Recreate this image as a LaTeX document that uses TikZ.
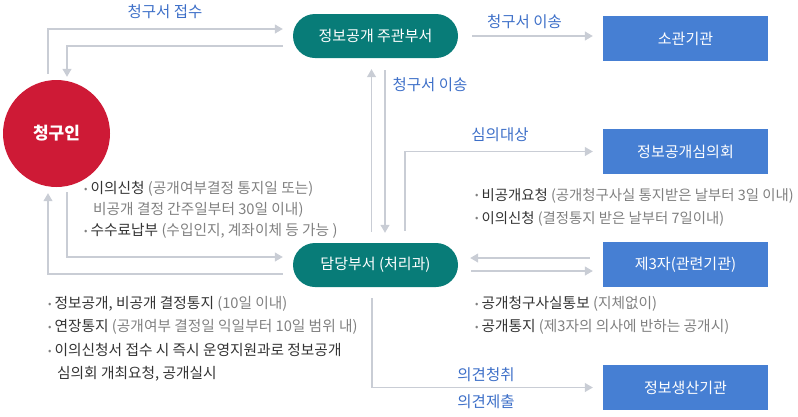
\documentclass[tikz,border=0pt]{standalone}
\usepackage{fontspec}
\setmainfont{Noto Sans CJK KR}
\usepackage{xcolor}
\usetikzlibrary{arrows.meta, positioning}
\definecolor{cteal}{RGB}{8,124,120}
\definecolor{cred}{RGB}{206,26,54}
\definecolor{cblue}{RGB}{70,127,211}
\definecolor{clbl}{RGB}{61,111,200}
\definecolor{cline}{RGB}{201,205,213}
\definecolor{cdark}{RGB}{51,51,51}
\definecolor{cgray}{RGB}{128,128,128}
\newcommand{\bul}{\textcolor{cgray}{\fontsize{10}{10}\selectfont\raisebox{0.12em}{•}}\hspace{3pt}}
\newcommand{\sub}[1]{\textcolor{cgray}{#1}}

\begin{document}
\begin{tikzpicture}[
  x=1pt, y=-1pt,
  reqc/.style  = {circle, fill=cred, minimum size=107pt, inner sep=0pt,
                  text=white, font=\fontsize{17}{18}\selectfont\bfseries},
  pill/.style  = {rectangle, rounded corners=22pt, fill=cteal,
                  minimum width=165pt, minimum height=44pt, inner sep=0pt,
                  text=white, font=\fontsize{15}{16}\selectfont},
  org/.style   = {rectangle, fill=cblue, minimum width=165pt,
                  minimum height=45pt, inner sep=0pt,
                  text=white, font=\fontsize{15}{16}\selectfont},
  arr/.style   = {-{Triangle[width=9pt,length=8pt]}, line width=1.2pt, cline},
  lbl/.style   = {text=clbl, font=\fontsize{15.5}{16}\selectfont, inner sep=0pt},
  note/.style  = {anchor=north west, align=left, inner sep=0pt, text=cdark,
                  font=\fontsize{14.7}{23.5}\selectfont},
]
\useasboundingbox (0,0) rectangle (798,416);

% main nodes
\node[reqc] (req)   at (56.5,133.5) {청구인};
\node[pill] (main)  at (375.5,36)   {정보공개 주관부서};
\node[pill] (dept)  at (375.5,265)  {담당부서 (처리과)};
\node[org]  (juris) at (685.5,38.5) {소관기관};
\node[org]  (comm)  at (685.5,151.5) {정보공개심의회};
\node[org]  (third) at (685.5,264.5) {제3자(관련기관)};
\node[org]  (prod)  at (685.5,387.5) {정보생산기관};

% connectors
\draw[arr] ([xshift=-8.5pt,yshift=6pt]req.north) |- ([xshift=-10pt,yshift=7pt]main.west);
\draw[arr] ([xshift=-10pt,yshift=-10pt]main.west) -| ([xshift=10.5pt,yshift=3pt]req.north);
\draw[arr] ([xshift=14pt]main.east) -- ([xshift=-10pt]main.east -| juris.west);
\draw[arr] ([xshift=-4pt,yshift=11pt]dept.north) -- ([xshift=-4pt,yshift=-11pt]main.south);
\draw[arr] ([xshift=9.5pt,yshift=-12pt]main.south) -- ([xshift=9.5pt,yshift=10pt]dept.north);
\draw[arr] ([xshift=29.5pt,yshift=12pt]dept.north) |- ([xshift=-10pt]comm.west);
\draw[arr] ([xshift=-13pt,yshift=6.5pt]third.west) -- ([xshift=12pt,yshift=7pt]dept.east);
\draw[arr] ([xshift=13pt,yshift=-6pt]dept.east) -- ([xshift=-10pt,yshift=-6.5pt]third.west);
\draw[arr] ([xshift=-3.5pt,yshift=-11pt]dept.south) |- ([xshift=-10pt]prod.west);
\draw[arr] ([xshift=10.5pt,yshift=-5pt]req.south) |- ([xshift=-10pt,yshift=8pt]dept.west);
\draw[arr] ([xshift=-10pt,yshift=-9pt]dept.west) -| ([xshift=-8.5pt,yshift=-6pt]req.south);

% connector labels
\node[lbl] (l-recv)  at (165,12)  {청구서 접수};
\node[lbl] (l-send1) at (524.5,22) {청구서 이송};
\node[lbl] (l-send2) at (430,85)  {청구서 이송};
\node[lbl] (l-rev)   at (500,135) {심의대상};
\node[lbl] (l-hear)  at (486,375) {의견청취};
\node[lbl] (l-sub)   at (486,402) {의견제출};

% notes
\node[note, font=\fontsize{14.7}{21}\selectfont] (n-req) at (84,181)
  {\bul 이의신청 \sub{(공개여부결정 통지일 또는)}\\
   \hspace{9pt}\sub{비공개 결정 간주일부터 30일 이내)}\\
   \bul 수수료납부 \sub{(수입인지, 계좌이체 등 가능 )}};
\node[note, font=\fontsize{14.4}{23}\selectfont] (n-comm) at (475,188)
  {\bul 비공개요청 \sub{(공개청구사실 통지받은 날부터 3일 이내)}\\
   \bul 이의신청 \sub{(결정통지 받은 날부터 7일이내)}};
\node[note] (n-dept) at (48,296)
  {\bul 정보공개, 비공개 결정통지 \sub{(10일 이내)}\\
   \bul 연장통지 \sub{(공개여부 결정일 익일부터 10일 범위 내)}\\
   \bul 이의신청서 접수 시 즉시 운영지원과로 정보공개\\
   \hspace{9pt}심의회 개최요청, 공개실시};
\node[note] (n-third) at (475,296)
  {\bul 공개청구사실통보 \sub{(지체없이)}\\
   \bul 공개통지 \sub{(제3자의 의사에 반하는 공개시)}};
\end{tikzpicture}
\end{document}
